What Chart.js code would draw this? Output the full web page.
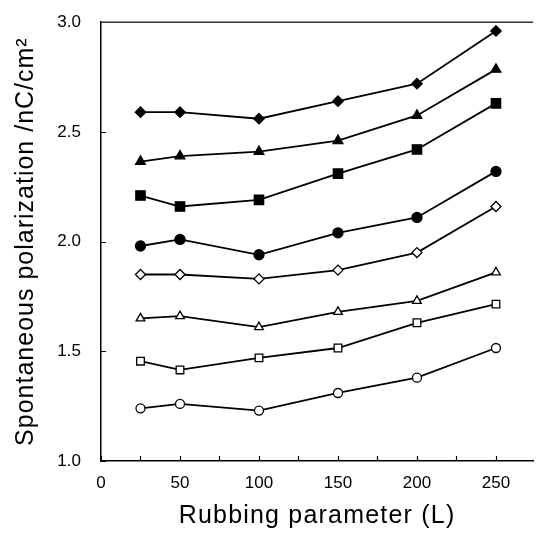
<!DOCTYPE html>
<html>
<head>
<meta charset="utf-8">
<style>
html,body{margin:0;padding:0;background:#fff;}
#wrap{width:541px;height:534px;position:relative;}
</style>
<script src="https://cdn.jsdelivr.net/npm/chart.js@4.4.1/dist/chart.umd.min.js"></script>
</head>
<body>
<div id="wrap"><canvas id="c" width="541" height="534"></canvas></div>
<script>
const xValues = [25, 50, 100, 150, 200, 250];
const filledDiamond  = [2.59, 2.59, 2.56, 2.64, 2.72, 2.96];
const filledTriangle = [2.365, 2.39, 2.41, 2.46, 2.575, 2.785];
const filledSquare   = [2.21, 2.16, 2.19, 2.31, 2.42, 2.63];
const filledCircle   = [1.98, 2.01, 1.94, 2.04, 2.11, 2.32];
const openDiamond    = [1.85, 1.85, 1.83, 1.87, 1.95, 2.16];
const openTriangle   = [1.65, 1.66, 1.61, 1.68, 1.73, 1.86];
const openSquare     = [1.455, 1.415, 1.47, 1.515, 1.63, 1.715];
const openCircle     = [1.24, 1.26, 1.23, 1.31, 1.38, 1.515];
const xTickValues = [0, 25, 50, 75, 100, 125, 150, 175, 200, 225, 250];
const yTickValues = [1.0, 1.5, 2.0, 2.5, 3.0];

function series(vals, style, radius, filled) {
  return {
    data: xValues.map((x, i) => ({x: x, y: vals[i]})),
    borderColor: '#000',
    borderWidth: 1.8,
    pointStyle: style,
    pointRadius: radius,
    pointHoverRadius: radius,
    pointBackgroundColor: filled ? '#000' : '#fff',
    pointBorderColor: '#000',
    pointBorderWidth: 1.3,
    fill: false,
    tension: 0
  };
}

const frame = {
  id: 'frame',
  afterDraw(chart) {
    const {ctx, chartArea, scales} = chart;
    ctx.save();
    ctx.strokeStyle = '#000';
    ctx.lineWidth = 1.2;
    ctx.beginPath();
    xTickValues.forEach(v => {
      const px = Math.round(scales.x.getPixelForValue(v)) + 0.5;
      ctx.moveTo(px, chartArea.bottom);
      ctx.lineTo(px, chartArea.bottom - 5);
    });
    yTickValues.forEach(v => {
      const py = Math.round(scales.y.getPixelForValue(v)) + 0.5;
      ctx.moveTo(chartArea.left, py);
      ctx.lineTo(chartArea.left + 5, py);
    });
    ctx.stroke();
    ctx.strokeStyle = '#333';
    ctx.lineWidth = 1.5;
    ctx.beginPath();
    ctx.moveTo(chartArea.left, chartArea.top);
    ctx.lineTo(chartArea.right, chartArea.top);
    ctx.stroke();
    ctx.restore();
  }
};

const chart = new Chart(document.getElementById('c'), {
  type: 'line',
  data: {
    datasets: [
      series(filledDiamond, 'rectRot', 5.2, true),
      series(filledTriangle, 'triangle', 5.6, true),
      series(filledSquare, 'rect', 6.6, true),
      series(filledCircle, 'circle', 5, true),
      series(openDiamond, 'rectRot', 5, false),
      series(openTriangle, 'triangle', 5, false),
      series(openSquare, 'rect', 5.4, false),
      series(openCircle, 'circle', 4.5, false)
    ]
  },
  options: {
    responsive: false,
    animation: false,
    events: [],
    layout: {padding: {top: 22, right: 0, left: 0, bottom: 0}},
    plugins: {legend: {display: false}, tooltip: {enabled: false}},
    scales: {
      x: {
        type: 'linear',
        min: 0,
        max: 273.5,
        afterBuildTicks: s => { s.ticks = xTickValues.map(v => ({value: v})); },
        afterFit: s => { s.height = 73; },
        grid: {display: false},
        border: {display: true, color: '#000', width: 1.5},
        ticks: {
          color: '#000',
          padding: 4,
          maxRotation: 0,
          autoSkip: false,
          font: {family: 'Liberation Sans, Arial', size: 17},
          callback: v => (v % 50 === 0 ? String(v) : '')
        },
        title: {
          display: true,
          text: 'Rubbing parameter (L)',
          color: '#000',
          font: {family: 'Liberation Sans, Arial', size: 25},
          padding: {top: 0, bottom: 3}
        }
      },
      y: {
        type: 'linear',
        min: 1.0,
        max: 3.0,
        afterBuildTicks: s => { s.ticks = yTickValues.map(v => ({value: v})); },
        afterFit: s => { s.width = 101; },
        grid: {display: false},
        border: {display: true, color: '#000', width: 1.5},
        ticks: {
          color: '#000',
          padding: 12,
          font: {family: 'Liberation Sans, Arial', size: 17},
          callback: v => Number(v).toFixed(1)
        },
        title: {
          display: true,
          text: 'Spontaneous polarization /nC/cm\u00B2',
          color: '#000',
          font: {family: 'Liberation Sans, Arial', size: 25},
          padding: {top: 11, bottom: 0}
        }
      }
    }
  },
  plugins: [frame]
});

// slightly wider letter spacing for the axis titles, as in the reference
function spaceTitle(scale, spacing) {
  const orig = scale.drawTitle;
  scale.drawTitle = function () {
    const ctx = this.ctx;
    ctx.save();
    ctx.letterSpacing = spacing;
    orig.apply(this, arguments);
    ctx.restore();
  };
}
spaceTitle(chart.scales.x, '1.2px');
spaceTitle(chart.scales.y, '1px');
chart.draw();
</script>
</body>
</html>
